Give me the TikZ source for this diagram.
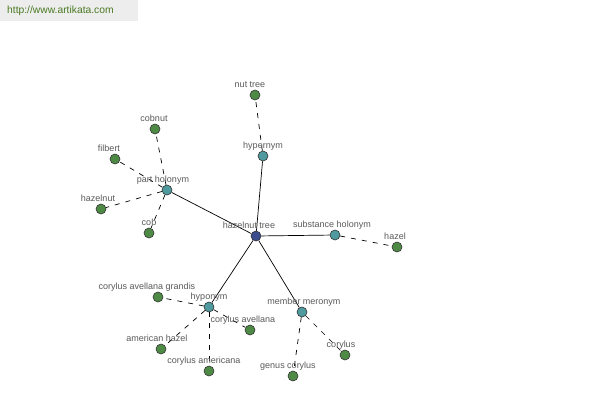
\documentclass[tikz,border=0pt]{standalone}
\usepackage{fontspec}
\setmainfont{Liberation Sans}
\usepackage{xcolor}
\usetikzlibrary{positioning}

\definecolor{hubblue}{HTML}{3C4B8C}
\definecolor{relteal}{HTML}{4E9A9E}
\definecolor{leafgreen}{HTML}{4E8A46}
\definecolor{labelgray}{HTML}{5A5A5A}
\definecolor{sitegreen}{HTML}{4A7A22}

\begin{document}
\begin{tikzpicture}[
    x=1pt, y=-1pt,
    dot/.style={circle, minimum size=10pt, inner sep=0pt, draw=black!80, line width=0.6pt},
    hub/.style={dot, fill=hubblue},
    rel/.style={dot, fill=relteal},
    leaf/.style={dot, fill=leafgreen},
    lbl/.style={font=\fontsize{9}{10}\selectfont, text=labelgray, inner sep=0pt, text depth=0pt},
    relink/.style={line width=0.7pt, draw=black},
    leaflink/.style={line width=0.7pt, draw=black, dash pattern=on 5pt off 6pt}
]
\useasboundingbox (0,0) rectangle (600,400);
\fill[white] (0,0) rectangle (600,400);

% Watermark
\fill[black!7] (0,0) rectangle (138,21);
\node[font=\fontsize{10.3}{12}\selectfont, text=sitegreen, anchor=west, inner sep=0pt] (site) at (7,11) {http://www.artikata.com};

% Centre
\node[hub] (hazelnuttree) at (256,236) {};

% Relation nodes
\node[rel] (hypernym) at (263,156) {};
\node[rel] (partholonym) at (167,190) {};
\node[rel] (substholonym) at (335,235) {};
\node[rel] (hyponym) at (209,307) {};
\node[rel] (memmeronym) at (302,312) {};

% Leaves
\node[leaf] (nuttree) at (255,95) {};
\node[leaf] (cobnut) at (155,129) {};
\node[leaf] (filbert) at (115,159) {};
\node[leaf] (hazelnut) at (101,209) {};
\node[leaf] (cob) at (149,233) {};
\node[leaf] (hazel) at (397,247) {};
\node[leaf] (cagrandis) at (158,297) {};
\node[leaf] (cavellana) at (250,330) {};
\node[leaf] (amhazel) at (161,349) {};
\node[leaf] (camericana) at (209,371) {};
\node[leaf] (genuscorylus) at (293,376) {};
\node[leaf] (corylus) at (345,355) {};

% Solid links
\draw[relink] (hazelnuttree) -- (hypernym);
\draw[relink] (hazelnuttree) -- (partholonym);
\draw[relink] (hazelnuttree) -- (substholonym);
\draw[relink] (hazelnuttree) -- (hyponym);
\draw[relink] (hazelnuttree) -- (memmeronym);

% Dashed links
\draw[leaflink] (hypernym) -- (nuttree);
\draw[leaflink] (partholonym) -- (cobnut);
\draw[leaflink] (partholonym) -- (filbert);
\draw[leaflink] (partholonym) -- (hazelnut);
\draw[leaflink] (partholonym) -- (cob);
\draw[leaflink] (substholonym) -- (hazel);
\draw[leaflink] (hyponym) -- (cagrandis);
\draw[leaflink] (hyponym) -- (cavellana);
\draw[leaflink] (hyponym) -- (amhazel);
\draw[leaflink] (hyponym) -- (camericana);
\draw[leaflink] (memmeronym) -- (genuscorylus);
\draw[leaflink] (memmeronym) -- (corylus);

% Labels
\node[lbl, above=2pt of hazelnuttree, xshift=-7pt] (lhazelnuttree) {hazelnut tree};
\node[lbl, above=2pt of hypernym] (lhypernym) {hypernym};
\node[lbl, above=2pt of partholonym, xshift=-4pt] (lpartholonym) {part holonym};
\node[lbl, above=2pt of substholonym, xshift=-3pt] (lsubstholonym) {substance holonym};
\node[lbl, above=2pt of hyponym] (lhyponym) {hyponym};
\node[lbl, above=2pt of memmeronym, xshift=2pt] (lmemmeronym) {member meronym};
\node[lbl, above=2pt of nuttree, xshift=-5pt] (lnuttree) {nut tree};
\node[lbl, above=2pt of cobnut, xshift=-1pt] (lcobnut) {cobnut};
\node[lbl, above=2pt of filbert, xshift=-6pt] (lfilbert) {filbert};
\node[lbl, above=2pt of hazelnut, xshift=-3pt] (lhazelnut) {hazelnut};
\node[lbl, above=2pt of cob] (lcob) {cob};
\node[lbl, above=2pt of hazel, xshift=-2pt] (lhazel) {hazel};
\node[lbl, above=2pt of cagrandis, xshift=-11pt] (lcagrandis) {corylus avellana grandis};
\node[lbl, above=2pt of cavellana, xshift=-7pt] (lcavellana) {corylus avellana};
\node[lbl, above=2pt of amhazel, xshift=-4pt] (lamhazel) {american hazel};
\node[lbl, above=2pt of camericana, xshift=-5pt] (lcamericana) {corylus americana};
\node[lbl, above=2pt of genuscorylus, xshift=-5pt] (lgenuscorylus) {genus corylus};
\node[lbl, above=2pt of corylus, xshift=-4pt] (lcorylus) {corylus};

\end{tikzpicture}
\end{document}
